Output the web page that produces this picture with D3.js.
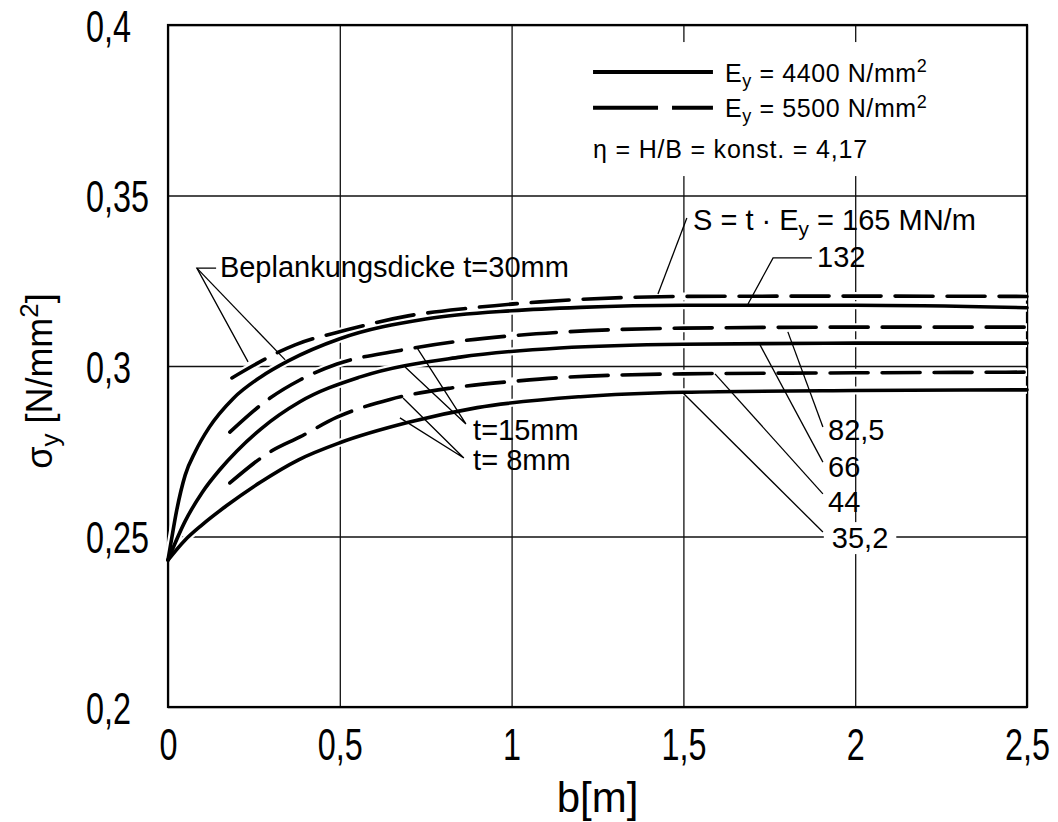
<!DOCTYPE html>
<html>
<head>
<meta charset="utf-8">
<script src="https://cdn.jsdelivr.net/npm/d3@7"></script>
<style>
body{margin:0;background:#fff;}
text{font-family:"Liberation Sans",Arial,sans-serif;fill:#000;}
.tick text{font-family:"Liberation Sans",Arial,sans-serif;font-size:45px;}
</style>
</head>
<body>
<div id="svg-container"></div>
<script>
// axis ticks
var xTicks = [0, 0.5, 1, 1.5, 2, 2.5];
var xTickLabels = ["0", "0,5", "1", "1,5", "2", "2,5"];
var yTicks = [0.2, 0.25, 0.3, 0.35, 0.4];
var yTickLabels = ["0,2", "0,25", "0,3", "0,35", "0,4"];

// Ey = 4400 N/mm2 (solid)
var b30s = [0, 0.01, 0.025, 0.05, 0.08, 0.12, 0.19, 0.27, 0.35, 0.5, 0.75, 1.0, 1.2, 1.5, 2.0, 2.5];
var v30s = [0.2431, 0.2490, 0.2575, 0.2680, 0.2750, 0.2820, 0.2905, 0.2968, 0.3015, 0.3080, 0.3138, 0.3162, 0.3172, 0.3178, 0.3178, 0.3171];
var b15s = [0, 0.05, 0.1, 0.15, 0.2, 0.27, 0.384, 0.56, 0.85, 1.14, 1.5, 2.0, 2.5];
var v15s = [0.2431, 0.2545, 0.2630, 0.2695, 0.2750, 0.2815, 0.2895, 0.2968, 0.3026, 0.3053, 0.3064, 0.3067, 0.3067];
var b8s = [0, 0.05, 0.1, 0.17, 0.27, 0.38, 0.5, 0.7, 0.9, 1.2, 1.5, 2.0, 2.5];
var v8s = [0.2431, 0.2490, 0.2535, 0.2590, 0.2660, 0.2725, 0.2775, 0.2835, 0.2878, 0.2910, 0.2923, 0.2928, 0.2930];

// Ey = 5500 N/mm2 (dashed)
var b30d = [0.186, 0.37, 0.521, 0.699, 0.879, 1.083, 1.5, 2.0, 2.5];
var v30d = [0.2965, 0.3062, 0.3106, 0.3147, 0.3170, 0.3188, 0.3204, 0.3205, 0.3204];
var b15d = [0.18, 0.297, 0.384, 0.492, 0.666, 0.85, 1.016, 1.141, 1.5, 2.0, 2.5];
var v15d = [0.2806, 0.2906, 0.2959, 0.3006, 0.3044, 0.3073, 0.3090, 0.3099, 0.3111, 0.3114, 0.3114];
var b8d = [0.18, 0.297, 0.384, 0.492, 0.646, 0.821, 1.016, 1.141, 1.5, 2.0, 2.5];
var v8d = [0.2657, 0.2748, 0.2792, 0.2850, 0.2902, 0.2935, 0.2956, 0.2966, 0.2977, 0.2980, 0.2982];

var curves = [
  {b: b30s, v: v30s, dash: false},
  {b: b15s, v: v15s, dash: false},
  {b: b8s, v: v8s, dash: false},
  {b: b30d, v: v30d, dash: true},
  {b: b15d, v: v15d, dash: true},
  {b: b8d, v: v8d, dash: true}
];

var W = 1058, H = 822;
var svg = d3.select("#svg-container").append("svg").attr("width", W).attr("height", H);

var x = d3.scaleLinear().domain([0, 2.5]).range([168, 1027]);
var y = d3.scaleLinear().domain([0.2, 0.4]).range([707, 25]);

var squeeze = 0.72; // narrow drawing lettering on the tick labels

// grid + tick labels
var gx = svg.append("g").attr("transform", "translate(0," + y(0.2) + ")")
  .call(d3.axisBottom(x).tickValues(xTicks).tickFormat(function(d, i){ return xTickLabels[i]; })
    .tickSize(-(y(0.2) - y(0.4))).tickPadding(21));
gx.select(".domain").remove();
gx.selectAll(".tick line").attr("stroke", "#111").attr("stroke-width", 1.3);
gx.selectAll(".tick text").attr("fill", "#000").attr("transform", "scale(" + squeeze + ",1)");

var gy = svg.append("g").attr("transform", "translate(" + x(0) + ",0)")
  .call(d3.axisLeft(y).tickValues(yTicks).tickFormat(function(d, i){ return yTickLabels[i]; })
    .tickSize(-(x(2.5) - x(0))));
gy.select(".domain").remove();
gy.selectAll(".tick line").attr("stroke", "#111").attr("stroke-width", 1.3);
gy.selectAll(".tick text").attr("fill", "#000").attr("text-anchor", "start")
  .attr("x", -82 / squeeze).attr("dy", "0.36em").attr("transform", "scale(" + squeeze + ",1)");

// frame
svg.append("rect").attr("x", x(0)).attr("y", y(0.4))
  .attr("width", x(2.5) - x(0)).attr("height", y(0.2) - y(0.4))
  .attr("fill", "none").attr("stroke", "#000").attr("stroke-width", 2.2);

// curves
var line = d3.line()
  .x(function(d){ return x(d[0]); })
  .y(function(d){ return y(d[1]); })
  .curve(d3.curveMonotoneX);

curves.forEach(function(c){
  var pts = c.b.map(function(b, i){ return [b, c.v[i]]; });
  svg.append("path").attr("d", line(pts)).attr("fill", "none")
    .attr("stroke", "#fff").attr("stroke-width", 8);
});
curves.forEach(function(c){
  var pts = c.b.map(function(b, i){ return [b, c.v[i]]; });
  svg.append("path").attr("d", line(pts)).attr("fill", "none")
    .attr("stroke", "#000").attr("stroke-width", 3.6)
    .attr("stroke-linecap", "round")
    .attr("stroke-dasharray", c.dash ? "38,14" : null);
});

// text with sub/superscripts
function rich(g, parts, size){
  parts.forEach(function(p){
    var t = p[0], k = p[1] || "n";
    if (k == "sub") g.append("tspan").text(t).attr("font-size", size * 0.72).attr("dy", size * 0.2);
    else if (k == "sup") g.append("tspan").text(t).attr("font-size", size * 0.72).attr("dy", -size * 0.38);
    else if (k == "n2") g.append("tspan").text(t).attr("dy", -size * 0.2);
    else if (k == "n3") g.append("tspan").text(t).attr("dy", size * 0.38);
    else g.append("tspan").text(t);
  });
}

// legend
svg.append("rect").attr("x", x(1.214)).attr("y", y(0.395))
  .attr("width", x(2.45) - x(1.214)).attr("height", y(0.3557) - y(0.395)).attr("fill", "#fff");
svg.append("line").attr("x1", x(1.237)).attr("x2", x(1.586)).attr("y1", y(0.3862)).attr("y2", y(0.3862))
  .attr("stroke", "#000").attr("stroke-width", 4);
svg.append("line").attr("x1", x(1.237)).attr("x2", x(1.586)).attr("y1", y(0.3757)).attr("y2", y(0.3757))
  .attr("stroke", "#000").attr("stroke-width", 4).attr("stroke-dasharray", "65,14");

var lt1 = svg.append("text").attr("x", x(1.621)).attr("y", y(0.3833)).attr("font-size", 25).attr("letter-spacing", 0.6);
rich(lt1, [["E"], ["y", "sub"], [" = 4400 N/mm", "n2"], ["2", "sup"]], 25);
var lt2 = svg.append("text").attr("x", x(1.621)).attr("y", y(0.3730)).attr("font-size", 25).attr("letter-spacing", 0.6);
rich(lt2, [["E"], ["y", "sub"], [" = 5500 N/mm", "n2"], ["2", "sup"]], 25);
svg.append("text").attr("x", x(1.237)).attr("y", y(0.3610)).attr("font-size", 25).attr("letter-spacing", 0.8)
  .text("\u03B7 = H/B = konst. = 4,17");

// annotations: label positions and leader polylines (data units)
var labels = [
  {b: 0.151, v: 0.3261, text: "Beplankungsdicke t=30mm"},
  {b: 0.888, v: 0.2783, text: "t=15mm"},
  {b: 0.888, v: 0.2695, text: "t= 8mm"},
  {b: 1.889, v: 0.3290, text: "132"},
  {b: 1.921, v: 0.2783, text: "82,5"},
  {b: 1.921, v: 0.2674, text: "66"},
  {b: 1.921, v: 0.2572, text: "44"},
  {b: 1.932, v: 0.2466, text: "35,2", bg: true}
];
var leaders = [
  [[0.14, 0.3287], [0.084, 0.3287], [0.233, 0.3012]],
  [[0.084, 0.3287], [0.341, 0.3018]],
  [[0.725, 0.3053], [0.867, 0.2830], [0.690, 0.2997]],
  [[0.684, 0.2906], [0.861, 0.2730], [0.675, 0.2848]],
  [[1.510, 0.3434], [1.426, 0.3211]],
  [[1.874, 0.3317], [1.761, 0.3317], [1.688, 0.3182]],
  [[1.906, 0.2821], [1.804, 0.3100]],
  [[1.906, 0.2718], [1.723, 0.3062]],
  [[1.906, 0.2625], [1.592, 0.2977]],
  [[1.906, 0.2513], [1.496, 0.2924]]
];
var thin = d3.line().x(function(d){ return x(d[0]); }).y(function(d){ return y(d[1]); });
leaders.forEach(function(l){
  svg.append("path").attr("d", thin(l)).attr("fill", "none").attr("stroke", "#000").attr("stroke-width", 1.3);
});

labels.forEach(function(l){
  var t = svg.append("text").attr("x", x(l.b)).attr("y", y(l.v)).attr("font-size", 29).text(l.text);
  if (l.bg) {
    var bb = t.node().getBBox();
    svg.insert("rect", function(){ return t.node(); })
      .attr("x", bb.x - 8).attr("y", bb.y).attr("width", bb.width + 16)
      .attr("height", bb.height).attr("fill", "#fff");
  }
});

var st = svg.append("text").attr("x", x(1.528)).attr("y", y(0.3399)).attr("font-size", 29);
rich(st, [["S = t \u00B7 E"], ["y", "sub"], [" = 165 MN/m", "n2"]], 29);

// axis titles
svg.append("text").attr("x", x(1.25)).attr("y", 812).attr("text-anchor", "middle")
  .attr("font-size", 42).text("b[m]");
var yt = svg.append("text").attr("transform", "translate(52,381) rotate(-90)")
  .attr("text-anchor", "middle").attr("font-size", 36);
rich(yt, [["\u03C3"], ["y", "sub"], [" [N/mm", "n2"], ["2", "sup"], ["]", "n3"]], 36);
</script>
</body>
</html>
